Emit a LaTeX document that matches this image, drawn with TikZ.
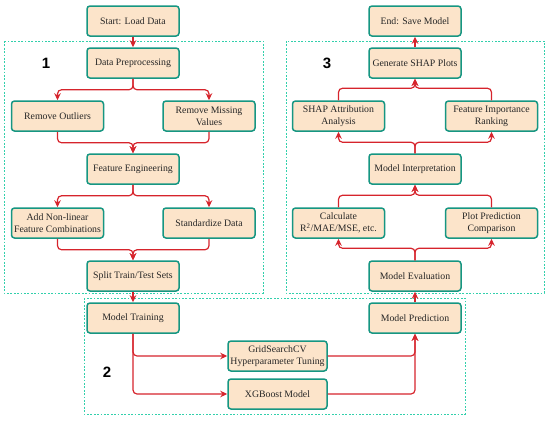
\documentclass[tikz,border=0pt]{standalone}
\usepackage{fontspec}
\setmainfont{Liberation Serif}
\newfontfamily\numfont{Liberation Sans}
\usetikzlibrary{positioning}
\usetikzlibrary{calc}
\usetikzlibrary{arrows.meta}

\definecolor{boxfill}{RGB}{252,228,202}
\definecolor{boxdraw}{RGB}{22,150,130}
\definecolor{flowred}{RGB}{214,36,44}
\definecolor{framecol}{RGB}{50,208,172}

\begin{document}
\begin{tikzpicture}
            [
                x=1pt, y=-1pt,
                stepbox/.style={rectangle, rounded corners=3pt, draw=boxdraw, fill=boxfill, line width=1.5pt, minimum width=92pt, minimum height=30pt, inner xsep=1pt, align=center, font=\fontsize{9.8}{12}\selectfont, text=black!85},
                widebox/.style={stepbox, minimum width=99pt},
                flow/.style={draw=flowred, line width=1.2pt, rounded corners=4pt, -{Stealth[length=7pt, width=6.5pt]}},
                frame/.style={draw=framecol, line width=1pt, dash pattern=on 1.8pt off 1.6pt},
                stage/.style={font=\numfont\fontsize{15}{18}\selectfont\bfseries}
            ]
            \useasboundingbox (0,0) rectangle (550,421);
            %frames
            \draw[frame] (4,41) rectangle (263,293);
            \draw[frame] (286,41) rectangle (544,293);
            \draw[frame] (84,298) rectangle (465,414);
            \node[stage] at (46,63)     (stage_one)     {1};
            \node[stage] at (107,372)   (stage_two)     {2};
            \node[stage] at (327,63)    (stage_three)   {3};
            %nodes
            \node[stepbox] at (133,21)      (start)                 {Start: Load Data};
            \node[stepbox] at (133,63)      (data_preprocessing)    {Data Preprocessing};
            \node[stepbox] at (57.5,116)    (remove_outliers)       {Remove Outliers};
            \node[stepbox] at (209,116)     (remove_missing)        {Remove Missing\\Values};
            \node[stepbox] at (133,169)     (feature_engineering)   {Feature Engineering};
            \node[stepbox] at (57.5,223)    (nonlinear)             {Add Non-linear\\Feature Combinations};
            \node[stepbox] at (209,223)     (standardize)           {Standardize Data};
            \node[stepbox] at (133,276)     (split)                 {Split Train/Test Sets};
            \node[stepbox] at (133,318)     (model_training)        {Model Training};
            \node[widebox] at (277.5,356)   (grid_search)           {GridSearchCV\\Hyperparameter Tuning};
            \node[widebox] at (277.5,394)   (xgboost)               {XGBoost Model};
            \node[stepbox] at (415,318)     (model_prediction)      {Model Prediction};
            \node[stepbox] at (415,276)     (model_evaluation)      {Model Evaluation};
            \node[stepbox] at (338.5,223)   (calculate)             {Calculate\\R\textsuperscript{2}/MAE/MSE, etc.};
            \node[stepbox] at (491.5,223)   (plot_comparison)       {Plot Prediction\\Comparison};
            \node[stepbox] at (415,169)     (model_interpretation)  {Model Interpretation};
            \node[stepbox] at (338.5,116)   (shap_attribution)      {SHAP Attribution\\Analysis};
            \node[stepbox] at (491.5,116)   (feature_ranking)       {Feature Importance\\Ranking};
            \node[stepbox] at (415,63)      (generate_shap)         {Generate SHAP Plots};
            \node[stepbox] at (415,21)      (end)                   {End: Save Model};
            %arrows
            \draw[flow] (start.south) -- (data_preprocessing.north);
            \draw[flow] (data_preprocessing.south) -- ++(0,11) -| (remove_outliers.north);
            \draw[flow] (data_preprocessing.south) -- ++(0,11) -| (remove_missing.north);
            \draw[flow] (remove_outliers.south) -- ++(0,11) -| (feature_engineering.north);
            \draw[flow] (remove_missing.south) -- ++(0,11) -| (feature_engineering.north);
            \draw[flow] (feature_engineering.south) -- ++(0,11) -| (nonlinear.north);
            \draw[flow] (feature_engineering.south) -- ++(0,11) -| (standardize.north);
            \draw[flow] (nonlinear.south) -- ++(0,11) -| (split.north);
            \draw[flow] (standardize.south) -- ++(0,11) -| (split.north);
            \draw[flow] (split.south) -- (model_training.north);
            \draw[flow] (model_training.south) |- (grid_search.west);
            \draw[flow] (model_training.south) |- (xgboost.west);
            \draw[flow] (grid_search.east) -| (model_prediction.south);
            \draw[flow] (xgboost.east) -| (model_prediction.south);
            \draw[flow] (model_prediction.north) -- (model_evaluation.south);
            \draw[flow] (model_evaluation.north) -- ++(0,-12) -| (calculate.south);
            \draw[flow] (model_evaluation.north) -- ++(0,-12) -| (plot_comparison.south);
            \draw[flow] (calculate.north) -- ++(0,-12) -| (model_interpretation.south);
            \draw[flow] (plot_comparison.north) -- ++(0,-12) -| (model_interpretation.south);
            \draw[flow] (model_interpretation.north) -- ++(0,-11) -| (shap_attribution.south);
            \draw[flow] (model_interpretation.north) -- ++(0,-11) -| (feature_ranking.south);
            \draw[flow] (shap_attribution.north) -- ++(0,-12) -| (generate_shap.south);
            \draw[flow] (feature_ranking.north) -- ++(0,-12) -| (generate_shap.south);
            \draw[flow] (generate_shap.north) -- (end.south);
        \end{tikzpicture}
\end{document}
